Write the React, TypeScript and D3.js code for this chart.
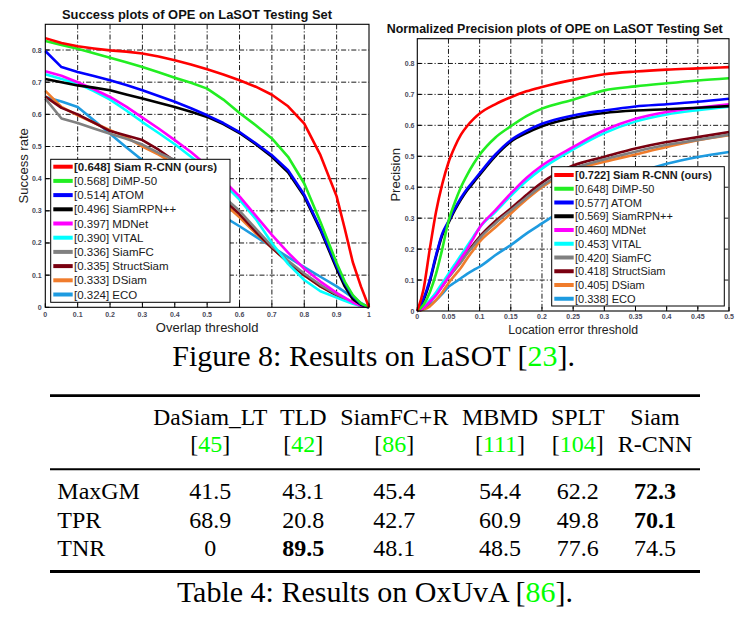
import React from "react";
import * as d3 from "d3";

// ---------- DATA ----------
const trackerNames = ["Siam R-CNN (ours)", "DiMP-50", "ATOM", "SiamRPN++", "MDNet", "VITAL", "SiamFC", "StructSiam", "DSiam", "ECO"];
const trackerColors = ["#ff0000", "#22ee22", "#0000ff", "#000000", "#ff00ff", "#00ffff", "#808080", "#7a0010", "#f07c2c", "#1e9be0"];
const successScores = ["0.648", "0.568", "0.514", "0.496", "0.397", "0.390", "0.336", "0.335", "0.333", "0.324"];
const precisionScores = ["0.722", "0.648", "0.577", "0.569", "0.460", "0.453", "0.420", "0.418", "0.405", "0.338"];

const overlapThresholds = [0, 0.05, 0.1, 0.15, 0.2, 0.25, 0.3, 0.35, 0.4, 0.45, 0.5, 0.55, 0.6, 0.65, 0.7, 0.75, 0.8, 0.85, 0.9, 0.925, 0.95, 0.975, 1];
const successSiamRCNN = [0.837, 0.822, 0.812, 0.805, 0.799, 0.795, 0.789, 0.78, 0.768, 0.755, 0.74, 0.724, 0.706, 0.686, 0.661, 0.625, 0.571, 0.473, 0.345, 0.245, 0.14, 0.065, 0];
const successDiMP = [0.828, 0.816, 0.804, 0.79, 0.776, 0.762, 0.747, 0.731, 0.714, 0.698, 0.68, 0.646, 0.604, 0.566, 0.525, 0.468, 0.385, 0.265, 0.138, 0.08, 0.038, 0.012, 0];
const successATOM = [0.797, 0.747, 0.732, 0.719, 0.706, 0.691, 0.675, 0.657, 0.639, 0.619, 0.597, 0.573, 0.545, 0.51, 0.473, 0.426, 0.35, 0.245, 0.128, 0.075, 0.035, 0.01, 0];
const successSiamRPN = [0.71, 0.7, 0.69, 0.683, 0.675, 0.662, 0.649, 0.636, 0.623, 0.608, 0.592, 0.57, 0.542, 0.507, 0.468, 0.42, 0.345, 0.24, 0.12, 0.065, 0.025, 0.008, 0];
const successMDNet = [0.734, 0.72, 0.7, 0.678, 0.654, 0.624, 0.59, 0.556, 0.52, 0.483, 0.44, 0.395, 0.345, 0.285, 0.225, 0.17, 0.12, 0.08, 0.045, 0.03, 0.015, 0.005, 0];
const successVITAL = [0.725, 0.71, 0.696, 0.672, 0.646, 0.612, 0.576, 0.542, 0.507, 0.468, 0.43, 0.385, 0.335, 0.275, 0.2, 0.135, 0.085, 0.05, 0.03, 0.02, 0.011, 0.004, 0];
const successSiamFC = [0.649, 0.587, 0.573, 0.556, 0.54, 0.524, 0.506, 0.48, 0.458, 0.43, 0.4, 0.345, 0.3, 0.245, 0.19, 0.145, 0.105, 0.07, 0.04, 0.028, 0.015, 0.006, 0];
const successStructSiam = [0.655, 0.62, 0.6, 0.574, 0.548, 0.534, 0.52, 0.49, 0.455, 0.425, 0.39, 0.335, 0.29, 0.235, 0.185, 0.14, 0.1, 0.065, 0.037, 0.025, 0.014, 0.005, 0];
const successDSiam = [0.673, 0.623, 0.597, 0.574, 0.551, 0.529, 0.5, 0.475, 0.445, 0.41, 0.37, 0.325, 0.28, 0.23, 0.185, 0.14, 0.1, 0.065, 0.038, 0.026, 0.015, 0.006, 0];
const successECO = [0.654, 0.64, 0.623, 0.582, 0.54, 0.498, 0.457, 0.42, 0.385, 0.35, 0.315, 0.283, 0.252, 0.22, 0.188, 0.156, 0.125, 0.095, 0.065, 0.048, 0.03, 0.014, 0];

const errorThresholds = [0, 0.01, 0.02, 0.03, 0.04, 0.05, 0.06, 0.07, 0.08, 0.09, 0.1, 0.125, 0.15, 0.175, 0.2, 0.25, 0.3, 0.35, 0.4, 0.45, 0.5];
const precSiamRCNN = [0, 0.07, 0.2, 0.32, 0.41, 0.48, 0.53, 0.57, 0.598, 0.62, 0.638, 0.668, 0.691, 0.71, 0.724, 0.747, 0.765, 0.774, 0.78, 0.784, 0.788];
const precDiMP = [0, 0.02, 0.06, 0.12, 0.2, 0.29, 0.35, 0.4, 0.44, 0.475, 0.505, 0.56, 0.597, 0.63, 0.654, 0.683, 0.713, 0.726, 0.736, 0.745, 0.752];
const precATOM = [0, 0.04, 0.1, 0.18, 0.25, 0.29, 0.33, 0.365, 0.395, 0.42, 0.445, 0.505, 0.552, 0.582, 0.605, 0.632, 0.648, 0.661, 0.668, 0.676, 0.686];
const precSiamRPN = [0, 0.035, 0.095, 0.175, 0.245, 0.285, 0.325, 0.36, 0.39, 0.415, 0.44, 0.5, 0.547, 0.575, 0.597, 0.624, 0.64, 0.648, 0.652, 0.657, 0.662];
const precMDNet = [0, 0.01, 0.03, 0.05, 0.08, 0.11, 0.14, 0.17, 0.2, 0.235, 0.27, 0.325, 0.38, 0.43, 0.47, 0.53, 0.584, 0.621, 0.643, 0.657, 0.668];
const precVITAL = [0, 0.012, 0.035, 0.06, 0.09, 0.12, 0.15, 0.18, 0.21, 0.24, 0.27, 0.32, 0.372, 0.42, 0.46, 0.522, 0.575, 0.612, 0.635, 0.649, 0.66];
const precSiamFC = [0, 0.01, 0.03, 0.055, 0.08, 0.108, 0.133, 0.158, 0.186, 0.21, 0.235, 0.283, 0.325, 0.366, 0.405, 0.46, 0.49, 0.515, 0.537, 0.553, 0.57];
const precStructSiam = [0, 0.01, 0.03, 0.055, 0.08, 0.11, 0.135, 0.16, 0.19, 0.215, 0.24, 0.29, 0.331, 0.375, 0.415, 0.47, 0.498, 0.525, 0.546, 0.562, 0.578];
const precDSiam = [0, 0.005, 0.015, 0.035, 0.06, 0.09, 0.115, 0.14, 0.17, 0.197, 0.224, 0.27, 0.315, 0.36, 0.4, 0.455, 0.482, 0.506, 0.53, 0.552, 0.568];
const precECO = [0, 0.008, 0.02, 0.035, 0.055, 0.078, 0.092, 0.106, 0.12, 0.132, 0.143, 0.18, 0.213, 0.25, 0.283, 0.347, 0.406, 0.445, 0.476, 0.498, 0.514];

const successSeries = [successSiamRCNN, successDiMP, successATOM, successSiamRPN, successMDNet, successVITAL, successSiamFC, successStructSiam, successDSiam, successECO];
const precisionSeries = [precSiamRCNN, precDiMP, precATOM, precSiamRPN, precMDNet, precVITAL, precSiamFC, precStructSiam, precDSiam, precECO];

const leftXTicks = [0, 0.1, 0.2, 0.3, 0.4, 0.5, 0.6, 0.7, 0.8, 0.9, 1];
const rightXTicks = [0, 0.05, 0.1, 0.15, 0.2, 0.25, 0.3, 0.35, 0.4, 0.45, 0.5];
const yTicks = [0, 0.1, 0.2, 0.3, 0.4, 0.5, 0.6, 0.7, 0.8];

// table
const tableMethods = ["DaSiam_LT", "TLD", "SiamFC+R", "MBMD", "SPLT", "Siam"];
const tableRefs = ["45", "42", "86", "111", "104", ""];
const tableRows = ["MaxGM", "TPR", "TNR"];
const maxGM = [41.5, 43.1, 45.4, 54.4, 62.2, 72.3];
const tpr = [68.9, 20.8, 42.7, 60.9, 49.8, 70.1];
const tnr = [0, 89.5, 48.1, 48.5, 77.6, 74.5];
const tableValues = [maxGM, tpr, tnr];
const boldCells = [[0, 5], [1, 5], [2, 1]];

const SANS = "'Liberation Sans', Arial, Helvetica, sans-serif";
const SERIF = "'Liberation Serif', 'Times New Roman', serif";

type PanelProps = {
  x0: number; x1: number; y0: number; y1: number;
  xMax: number; xTicks: number[]; xs: number[]; series: number[][];
  title: string; titleX: number; titleY: number; titleSize: number; titleLen: number;
  xLabel: string; xLabelY: number; xLabelSize: number;
  yLabel: string; yLabelX: number;
  tickLabelY: number; yTickRight: number; tickFmt: (v: number) => string;
  smooth: boolean;
  legend: { x: number; y: number; w: number; h: number; row0: number; dy: number; fs: number; scores: string[] };
};

function Panel(p: PanelProps) {
  const xs = d3.scaleLinear().domain([0, p.xMax]).range([p.x0, p.x1]);
  const ys = d3.scaleLinear().domain([0, 0.88]).range([p.y1, p.y0]);
  const line = d3.line<[number, number]>()
    .x(d => xs(d[0]))
    .y(d => ys(d[1]))
    .curve(p.smooth ? d3.curveMonotoneX : d3.curveLinear);
  const grid = "5,2,1.2,2";
  const order = d3.range(p.series.length).reverse();
  const L = p.legend;
  return (
    <g>
      <text x={p.titleX} y={p.titleY} textAnchor="middle" fontFamily={SANS} fontWeight="bold" fontSize={p.titleSize}
        textLength={p.titleLen} lengthAdjust="spacingAndGlyphs" fill="#111">{p.title}</text>
      {/* grid */}
      {p.xTicks.slice(1, -1).map((t, i) => (
        <line key={"gx" + i} x1={xs(t)} x2={xs(t)} y1={p.y0} y2={p.y1} stroke="#000" strokeWidth={0.9} strokeDasharray={grid} />
      ))}
      {yTicks.slice(1).map((t, i) => (
        <line key={"gy" + i} x1={p.x0} x2={p.x1} y1={ys(t)} y2={ys(t)} stroke="#000" strokeWidth={0.9} strokeDasharray={grid} />
      ))}
      {/* ticks */}
      {p.xTicks.map((t, i) => (
        <g key={"tx" + i}>
          <line x1={xs(t)} x2={xs(t)} y1={p.y1} y2={p.y1 - 4} stroke="#000" strokeWidth={1} />
          <text x={xs(t)} y={p.tickLabelY} textAnchor="middle" fontFamily={SANS} fontWeight="bold" fontSize={7} fill="#4a4a5a">{p.tickFmt(t)}</text>
        </g>
      ))}
      {yTicks.map((t, i) => (
        <g key={"ty" + i}>
          <line x1={p.x0} x2={p.x0 + 4} y1={ys(t)} y2={ys(t)} stroke="#000" strokeWidth={1} />
          <text x={p.yTickRight} y={ys(t) + 2.5} textAnchor="end" fontFamily={SANS} fontWeight="bold" fontSize={7} fill="#4a4a5a">{p.tickFmt(t)}</text>
        </g>
      ))}
      {/* curves */}
      {order.map(k => (
        <path key={"c" + k} d={line(p.xs.map((x, i) => [x, p.series[k][i]] as [number, number])) || ""}
          fill="none" stroke={trackerColors[k]} strokeWidth={2.6} strokeLinejoin="round" />
      ))}
      {/* box */}
      <rect x={p.x0} y={p.y0} width={p.x1 - p.x0} height={p.y1 - p.y0} fill="none" stroke="#000" strokeWidth={1.1} />
      {/* labels */}
      <text x={(p.x0 + p.x1) / 2} y={p.xLabelY} textAnchor="middle" fontFamily={SANS} fontSize={p.xLabelSize} fill="#222">{p.xLabel}</text>
      <text transform={`translate(${p.yLabelX},${(p.y0 + p.y1) / 2}) rotate(-90)`} textAnchor="middle" fontFamily={SANS} fontSize={13} fill="#222">{p.yLabel}</text>
      {/* legend */}
      <rect x={L.x} y={L.y} width={L.w} height={L.h} fill="#fff" stroke="#000" strokeWidth={1} />
      {trackerNames.map((n, i) => {
        const cy = L.row0 + i * L.dy;
        return (
          <g key={"l" + i}>
            <line x1={L.x + 2.6} x2={L.x + 22} y1={cy} y2={cy} stroke={trackerColors[i]} strokeWidth={4} />
            <text x={L.x + 23.3} y={cy + 4} fontFamily={SANS} fontSize={L.fs} fontWeight={i === 0 ? "bold" : "normal"} fill="#1a1a1a">
              {`[${L.scores[i]}] ${n}`}
            </text>
          </g>
        );
      })}
    </g>
  );
}

function Cite({ x, y, label, anchor = "middle", size = 24 }: { x: number; y: number; label: string; anchor?: string; size?: number }) {
  return (
    <text x={x} y={y} textAnchor={anchor as any} fontFamily={SERIF} fontSize={size} fill="#000">
      [<tspan fill="#00ff00">{label}</tspan>]
    </text>
  );
}

export default function App() {
  const colX = [210.3, 303.3, 394.3, 500, 577.8, 655];
  const rowY = [499, 527.7, 555.7];
  const isBold = (r: number, c: number) => boldCells.some(b => b[0] === r && b[1] === c);
  return (
    <svg width={753} height={622} style={{ position: "absolute", left: 0, top: 0, background: "#fff" }}>
      <rect x={0} y={0} width={753} height={622} fill="#fff" />
      <Panel x0={45.3} x1={369} y0={24.3} y1={307.3} xMax={1} xTicks={leftXTicks} xs={overlapThresholds} series={successSeries}
        title="Success plots of OPE on LaSOT Testing Set" titleX={197} titleY={19.3} titleSize={13} titleLen={270}
        xLabel="Overlap threshold" xLabelY={331.7} xLabelSize={13}
        yLabel="Success rate" yLabelX={27.5}
        tickLabelY={316.7} yTickRight={41.7} tickFmt={v => (v === 0 ? "0" : v === 1 ? "1" : d3.format(".1f")(v))}
        smooth={false}
        legend={{ x: 50.7, y: 159.3, w: 179.3, h: 143, row0: 166.7, dy: 14.2, fs: 11.5, scores: successScores }} />
      <Panel x0={417.3} x1={729} y0={38.7} y1={311} xMax={0.5} xTicks={rightXTicks} xs={errorThresholds} series={precisionSeries}
        title="Normalized Precision plots of OPE on LaSOT Testing Set" titleX={554.7} titleY={33.3} titleSize={12.5} titleLen={336}
        xLabel="Location error threshold" xLabelY={334} xLabelSize={12.3}
        yLabel="Precision" yLabelX={399.5}
        tickLabelY={319.3} yTickRight={414.5} tickFmt={v => (v === 0 ? "0" : String(+v.toFixed(2)))}
        smooth={true}
        legend={{ x: 551.7, y: 166.7, w: 172.6, h: 139.3, row0: 175, dy: 13.75, fs: 11, scores: precisionScores }} />

      {/* Figure caption */}
      <text x={373.7} y={366} textAnchor="middle" fontFamily={SERIF} fontSize={30} fill="#000">
        Figure 8: Results on LaSOT [<tspan fill="#00ff00">23</tspan>].
      </text>

      {/* Table */}
      <line x1={50} x2={700} y1={395.7} y2={395.7} stroke="#000" strokeWidth={2.8} />
      {tableMethods.map((m, i) => (
        <text key={"h" + i} x={colX[i]} y={425} textAnchor="middle" fontFamily={SERIF} fontSize={24} fill="#000"
          {...(i === 0 ? { textLength: 114, lengthAdjust: "spacingAndGlyphs" } : {})}>{m}</text>
      ))}
      {tableRefs.map((r, i) =>
        r ? <Cite key={"r" + i} x={colX[i]} y={452} label={r} /> :
          <text key={"r" + i} x={colX[i]} y={452} textAnchor="middle" fontFamily={SERIF} fontSize={24} fill="#000">R-CNN</text>
      )}
      <line x1={50} x2={700} y1={469.3} y2={469.3} stroke="#000" strokeWidth={2} />
      {tableRows.map((rn, r) => (
        <g key={"row" + r}>
          <text x={57.3} y={rowY[r]} fontFamily={SERIF} fontSize={24} fill="#000">{rn}</text>
          {tableValues[r].map((v, c) => (
            <text key={c} x={colX[c]} y={rowY[r]} textAnchor="middle" fontFamily={SERIF} fontSize={24}
              fontWeight={isBold(r, c) ? "bold" : "normal"} fill="#000">{v === 0 ? "0" : v.toFixed(1)}</text>
          ))}
        </g>
      ))}
      <line x1={50} x2={700} y1={571.5} y2={571.5} stroke="#000" strokeWidth={3} />
      <text x={375} y={601.7} textAnchor="middle" fontFamily={SERIF} fontSize={30} fill="#000">
        Table 4: Results on OxUvA [<tspan fill="#00ff00">86</tspan>].
      </text>
    </svg>
  );
}
